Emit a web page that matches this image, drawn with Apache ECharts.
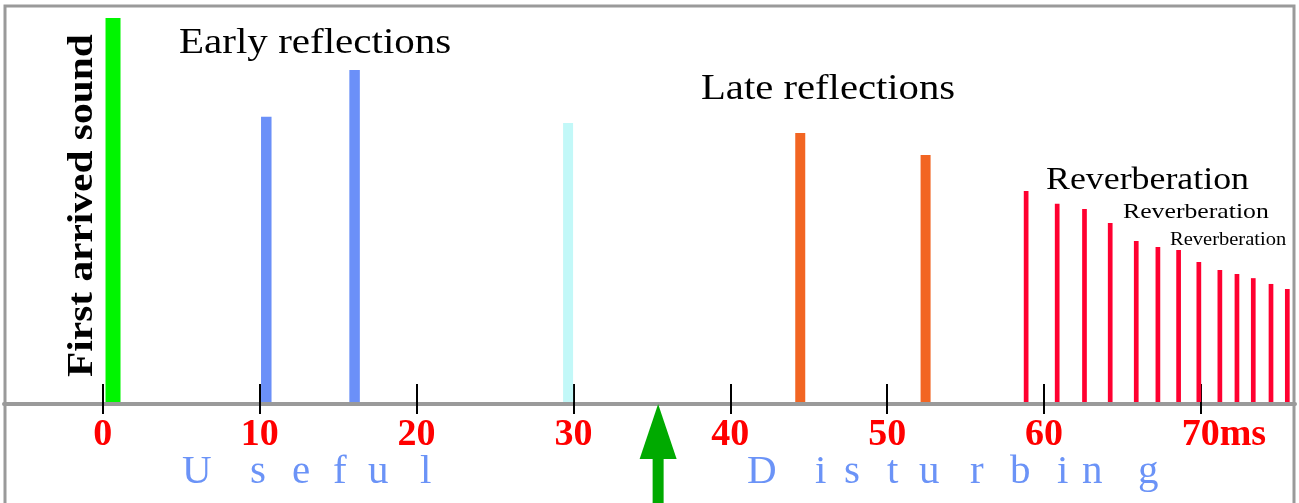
<!DOCTYPE html>
<html>
<head>
<meta charset="utf-8">
<script src="https://cdn.jsdelivr.net/npm/echarts@6/dist/echarts.min.js"></script>
<style>
  html, body { margin: 0; padding: 0; background: #ffffff; }
  #chart { width: 1299px; height: 503px; }
</style>
</head>
<body>
<div id="chart"></div>
<script>
// Arrival time (ms) and relative level of each reflection group
const directTime = [0.65];
const directLevel = [100];

const earlyTime = [10.42, 16.05];
const earlyLevel = [74.4, 86.5];

const midTime = [29.66];
const midLevel = [72.8];

const lateTime = [44.46, 52.45];
const lateLevel = [70.2, 64.5];

const reverbTime = [58.86, 60.84, 62.58, 64.22, 65.88, 67.26, 68.58, 69.87, 71.21, 72.30, 73.34, 74.47, 75.51];
const reverbLevel = [55.2, 51.9, 50.5, 46.9, 42.2, 40.7, 39.9, 36.8, 34.7, 33.7, 32.6, 31.1, 29.8];

// Time axis ticks
const tickValues = [0, 10, 20, 30, 40, 50, 60, 70];
const tickLabels = ['0', '10', '20', '30', '40', '50', '60', '70ms'];

// Boundary between useful and disturbing sound
const boundaryTime = [35.4];

const SERIF = '"Liberation Serif", "Times New Roman", serif';

function pairs(xs, ys) { return xs.map((x, i) => [x, ys[i]]); }

// Thin vertical impulse drawn from the axis up to its level
function impulseSeries(name, xs, ys, color, width) {
  return {
    name: name,
    type: 'custom',
    clip: false,
    data: pairs(xs, ys),
    renderItem: function (params, api) {
      const top = api.coord([api.value(0), api.value(1)]);
      const base = api.coord([api.value(0), 0]);
      return {
        type: 'rect',
        shape: { x: top[0] - width / 2, y: top[1], width: width, height: base[1] - top[1] - 2 },
        style: { fill: color }
      };
    }
  };
}

// Letter-by-letter spaced word built as one rich text
function spacedWord(word, widths, key) {
  const rich = {};
  let text = '';
  for (let i = 0; i < word.length; i++) {
    const k = key + i;
    rich[k] = { width: widths[i], align: 'left', fontFamily: SERIF, fontSize: 41, fill: '#6b93f7', color: '#6b93f7' };
    text += '{' + k + '|' + word[i] + '}';
  }
  return { text: text, rich: rich };
}

// Horizontal caption placed by its left edge and baseline
function label(text, x, baseline, fs, sx) {
  return {
    type: 'text',
    x: x,
    y: baseline - 0.26 * fs,
    scaleX: sx,
    z: 10,
    style: {
      text: text,
      font: fs + 'px ' + SERIF,
      fill: '#000000',
      textAlign: 'left',
      textVerticalAlign: 'middle'
    }
  };
}

const useful = spacedWord('Useful', [68, 42, 41, 35, 52, 14], 'u');
const disturbing = spacedWord('Disturbing', [68, 29, 43, 32, 51, 40, 47, 25, 56, 24], 'd');

const chart = echarts.init(document.getElementById('chart'));

chart.setOption({
  animation: false,
  backgroundColor: '#ffffff',
  grid: { left: 4, right: 4, top: 18, bottom: 99 },
  xAxis: [
    {
      type: 'value',
      min: -6.3,
      max: 76.0,
      position: 'bottom',
      splitLine: { show: false },
      axisLine: { show: true, onZero: false, lineStyle: { color: '#9a9a9a', width: 4 } },
      axisTick: { show: true, inside: true, length: 20, customValues: tickValues, lineStyle: { color: '#000000', width: 2 } },
      axisLabel: {
        show: true,
        margin: 12,
        customValues: tickValues,
        formatter: function (v) {
          const i = tickValues.indexOf(v);
          const s = i >= 0 ? tickLabels[i] : '';
          return s.endsWith('ms') ? '{pad|}{t|' + s + '}' : '{t|' + s + '}';
        },
        rich: {
          t: { fontFamily: SERIF, fontSize: 38, fontWeight: 'bold', color: '#ff0000' },
          pad: { width: 46 }
        }
      }
    },
    {
      type: 'value',
      min: -6.3,
      max: 76.0,
      position: 'bottom',
      splitLine: { show: false },
      axisLine: { show: false, onZero: false },
      axisTick: { show: true, inside: false, length: 10, customValues: tickValues, lineStyle: { color: '#000000', width: 2 } },
      axisLabel: { show: false }
    }
  ],
  yAxis: { type: 'value', min: 0, max: 100, show: false },
  series: [
    impulseSeries('First arrived sound', directTime, directLevel, '#00f500', 15),
    impulseSeries('Early reflections', earlyTime, earlyLevel, '#6b90f8', 10.5),
    impulseSeries('Transition', midTime, midLevel, '#c2f8f8', 10),
    impulseSeries('Late reflections', lateTime, lateLevel, '#f26522', 10),
    impulseSeries('Reverberation', reverbTime, reverbLevel, '#ff0030', 4.7),
    {
      name: 'Boundary',
      type: 'custom',
      clip: false,
      data: boundaryTime.map(t => [t, 0]),
      renderItem: function (params, api) {
        const tip = api.coord([api.value(0), 0]);
        return {
          type: 'group',
          children: [
            {
              type: 'polygon',
              shape: { points: [[tip[0], tip[1]], [tip[0] - 18.5, tip[1] + 55], [tip[0] + 18.5, tip[1] + 55]] },
              style: { fill: '#00aa00' }
            },
            {
              type: 'rect',
              shape: { x: tip[0] - 5.5, y: tip[1] + 54, width: 11, height: 200 },
              style: { fill: '#00aa00' }
            }
          ]
        };
      }
    }
  ],
  graphic: [
    {
      type: 'rect',
      z: -1,
      shape: { x: 5, y: 6, width: 1289, height: 600 },
      style: { fill: 'none', stroke: '#9a9a9a', lineWidth: 3 }
    },
    label('Early reflections', 179, 53, 36, 1.14),
    label('Late reflections', 701, 99, 36, 1.13),
    label('Reverberation', 1046, 189, 32, 1.12),
    label('Reverberation', 1123, 218, 22, 1.17),
    label('Reverberation', 1170, 245, 18, 1.14),
    {
      // Vertical caption beside the direct sound, reading bottom to top
      type: 'text',
      x: 95 - 0.34 * 36,
      y: 377,
      scaleX: 1.15,
      rotation: Math.PI / 2,
      z: 10,
      style: {
        text: 'First arrived sound',
        font: 'bold 36px ' + SERIF,
        fill: '#000000',
        textAlign: 'left',
        textVerticalAlign: 'middle'
      }
    },
    {
      type: 'text', x: 182, y: 472, z: 10,
      style: { text: useful.text, rich: useful.rich, font: '41px ' + SERIF, fill: '#6b93f7', textAlign: 'left', textVerticalAlign: 'middle' }
    },
    {
      type: 'text', x: 747, y: 472, z: 10,
      style: { text: disturbing.text, rich: disturbing.rich, font: '41px ' + SERIF, fill: '#6b93f7', textAlign: 'left', textVerticalAlign: 'middle' }
    }
  ]
});
</script>
</body>
</html>
